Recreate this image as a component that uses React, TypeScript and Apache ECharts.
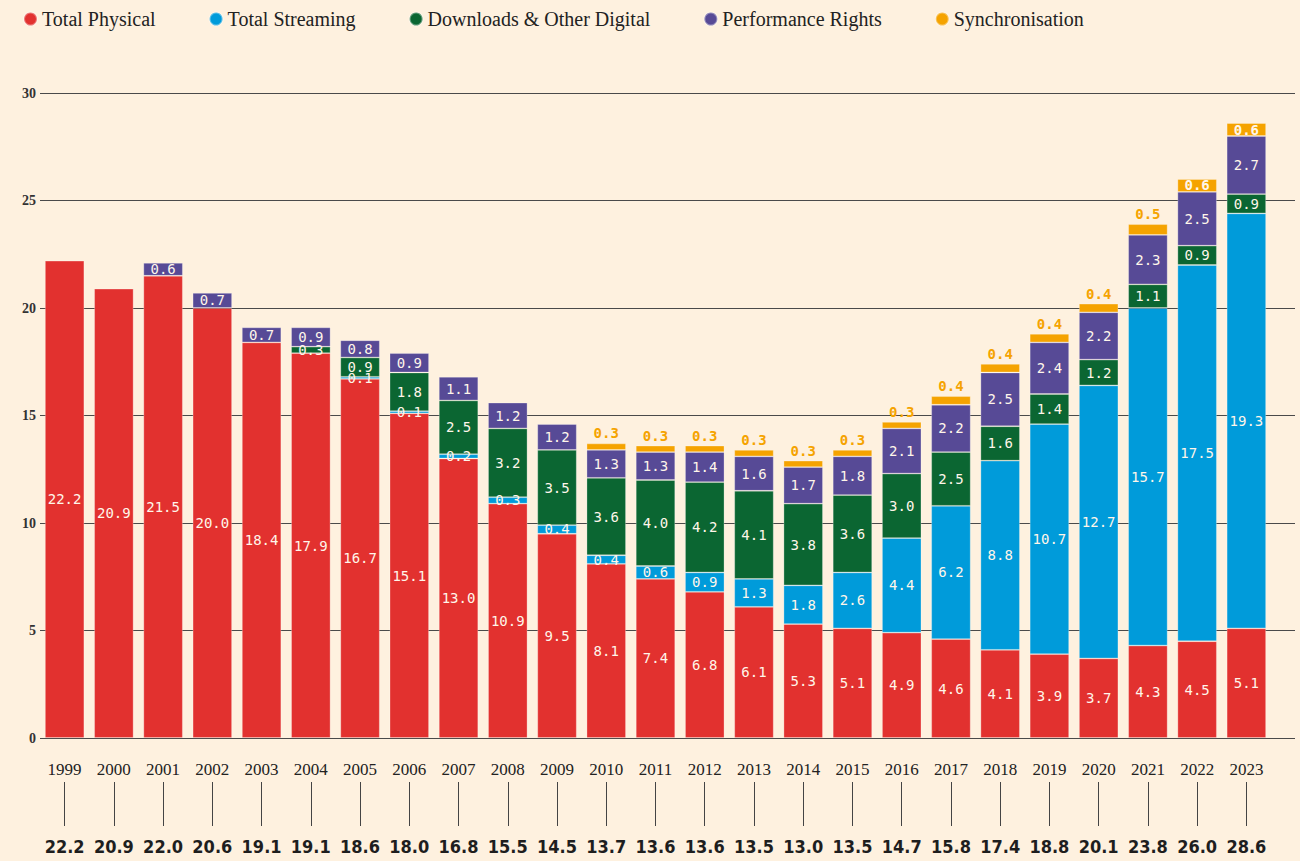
import React, { useEffect, useRef } from "react";
import * as echarts from "echarts";

const years = ["1999","2000","2001","2002","2003","2004","2005","2006","2007","2008","2009","2010","2011","2012","2013","2014","2015","2016","2017","2018","2019","2020","2021","2022","2023"];
const physical = [22.2,20.9,21.5,20.0,18.4,17.9,16.7,15.1,13.0,10.9,9.5,8.1,7.4,6.8,6.1,5.3,5.1,4.9,4.6,4.1,3.9,3.7,4.3,4.5,5.1];
const streaming = [null,null,null,null,null,null,0.1,0.1,0.2,0.3,0.4,0.4,0.6,0.9,1.3,1.8,2.6,4.4,6.2,8.8,10.7,12.7,15.7,17.5,19.3];
const downloads = [null,null,null,null,null,0.3,0.9,1.8,2.5,3.2,3.5,3.6,4.0,4.2,4.1,3.8,3.6,3.0,2.5,1.6,1.4,1.2,1.1,0.9,0.9];
const performance = [null,null,0.6,0.7,0.7,0.9,0.8,0.9,1.1,1.2,1.2,1.3,1.3,1.4,1.6,1.7,1.8,2.1,2.2,2.5,2.4,2.2,2.3,2.5,2.7];
const sync = [null,null,null,null,null,null,null,null,null,null,null,0.3,0.3,0.3,0.3,0.3,0.3,0.3,0.4,0.4,0.4,0.4,0.5,0.6,0.6];
const totals = ["22.2","20.9","22.0","20.6","19.1","19.1","18.6","18.0","16.8","15.5","14.5","13.7","13.6","13.6","13.5","13.0","13.5","14.7","15.8","17.4","18.8","20.1","23.8","26.0","28.6"];
const syncInside = ["2022", "2023"];

const BG = "#FEF1DF";
const RED = "#E2312F";
const BLUE = "#009BDA";
const GREEN = "#0B6632";
const PURPLE = "#574A96";
const ORANGE = "#F5A300";
const MONO = "'DejaVu Sans Mono', monospace";
const SERIF = "'Liberation Serif', 'DejaVu Serif', serif";
const NARROW = "'Liberation Sans Narrow', 'DejaVu Sans Condensed', 'Roboto', sans-serif";

const fmt = (p: any) => (p.value == null ? "" : Number(p.value).toFixed(1));

function barSeries(name: string, data: any[], color: string) {
  return {
    name,
    type: "bar",
    stack: "total",
    xAxisIndex: 1,
    yAxisIndex: 1,
    barCategoryGap: "20%",
    data,
    itemStyle: { color, borderColor: "rgba(255,255,255,0.35)", borderWidth: 0.8 },
    label: {
      show: true,
      position: "inside",
      formatter: fmt,
      color: "#FFF6EA",
      fontFamily: MONO,
      fontSize: 14,
    },
  };
}

export default function App() {
  const ref = useRef<HTMLDivElement>(null);
  useEffect(() => {
    if (!ref.current) return;
    const chart = echarts.init(ref.current, null, { renderer: "svg" });
    const syncData = sync.map((v, i) =>
      syncInside.includes(years[i]) && v != null
        ? { value: v, label: { position: "inside", color: "#FFF6EA" } }
        : v
    );
    chart.setOption({
      animation: false,
      backgroundColor: BG,
      legend: {
        left: 18,
        top: 4,
        icon: "circle",
        itemWidth: 13,
        itemHeight: 13,
        itemGap: 53,
        textStyle: { fontFamily: SERIF, fontSize: 20, color: "#222" },
        data: ["Total Physical", "Total Streaming", "Downloads & Other Digital", "Performance Rights", "Synchronisation"],
      },
      grid: [
        { left: 40, right: 5, top: 93, bottom: 123 },
        { left: 40, width: 1231, top: 93, bottom: 123 },
      ],
      xAxis: [
        { type: "value", gridIndex: 0, show: false, min: 0, max: 1 },
        {
          type: "category",
          gridIndex: 1,
          data: years,
          position: "bottom",
          axisLine: { show: false },
          axisTick: { show: false },
          axisLabel: { interval: 0, margin: 23, fontFamily: SERIF, fontSize: 17, color: "#222" },
        },
        {
          type: "category",
          gridIndex: 1,
          data: totals,
          position: "bottom",
          offset: 44,
          axisLine: { show: false },
          axisTick: { show: true, interval: 0, alignWithLabel: true, length: 44, lineStyle: { color: "#444", width: 1 } },
          axisLabel: { interval: 0, margin: 55, fontFamily: NARROW, fontWeight: "bold", fontSize: 18, color: "#1E1E1E" },
        },
      ],
      yAxis: [
        {
          type: "value",
          gridIndex: 0,
          min: 0,
          max: 30,
          interval: 5,
          axisLine: { show: false },
          axisTick: { show: false },
          splitLine: { show: true, lineStyle: { color: "#4A4A4A", width: 1 } },
          axisLabel: { margin: 4, fontFamily: SERIF, fontSize: 14, fontWeight: "bold", color: "#333" },
        },
        { type: "value", gridIndex: 1, min: 0, max: 30, interval: 5, show: false, splitLine: { show: false } },
      ],
      series: [
        barSeries("Total Physical", physical, RED),
        barSeries("Total Streaming", streaming, BLUE),
        barSeries("Downloads & Other Digital", downloads, GREEN),
        barSeries("Performance Rights", performance, PURPLE),
        {
          ...barSeries("Synchronisation", syncData, ORANGE),
          label: {
            show: true,
            position: "top",
            distance: 3,
            formatter: fmt,
            color: ORANGE,
            fontWeight: "bold",
            fontFamily: MONO,
            fontSize: 14,
          },
        },
      ],
    });
    return () => chart.dispose();
  }, []);
  return (
    <div
      ref={ref}
      style={{ position: "absolute", left: 0, top: 0, width: 1300, height: 861, background: BG }}
    />
  );
}
